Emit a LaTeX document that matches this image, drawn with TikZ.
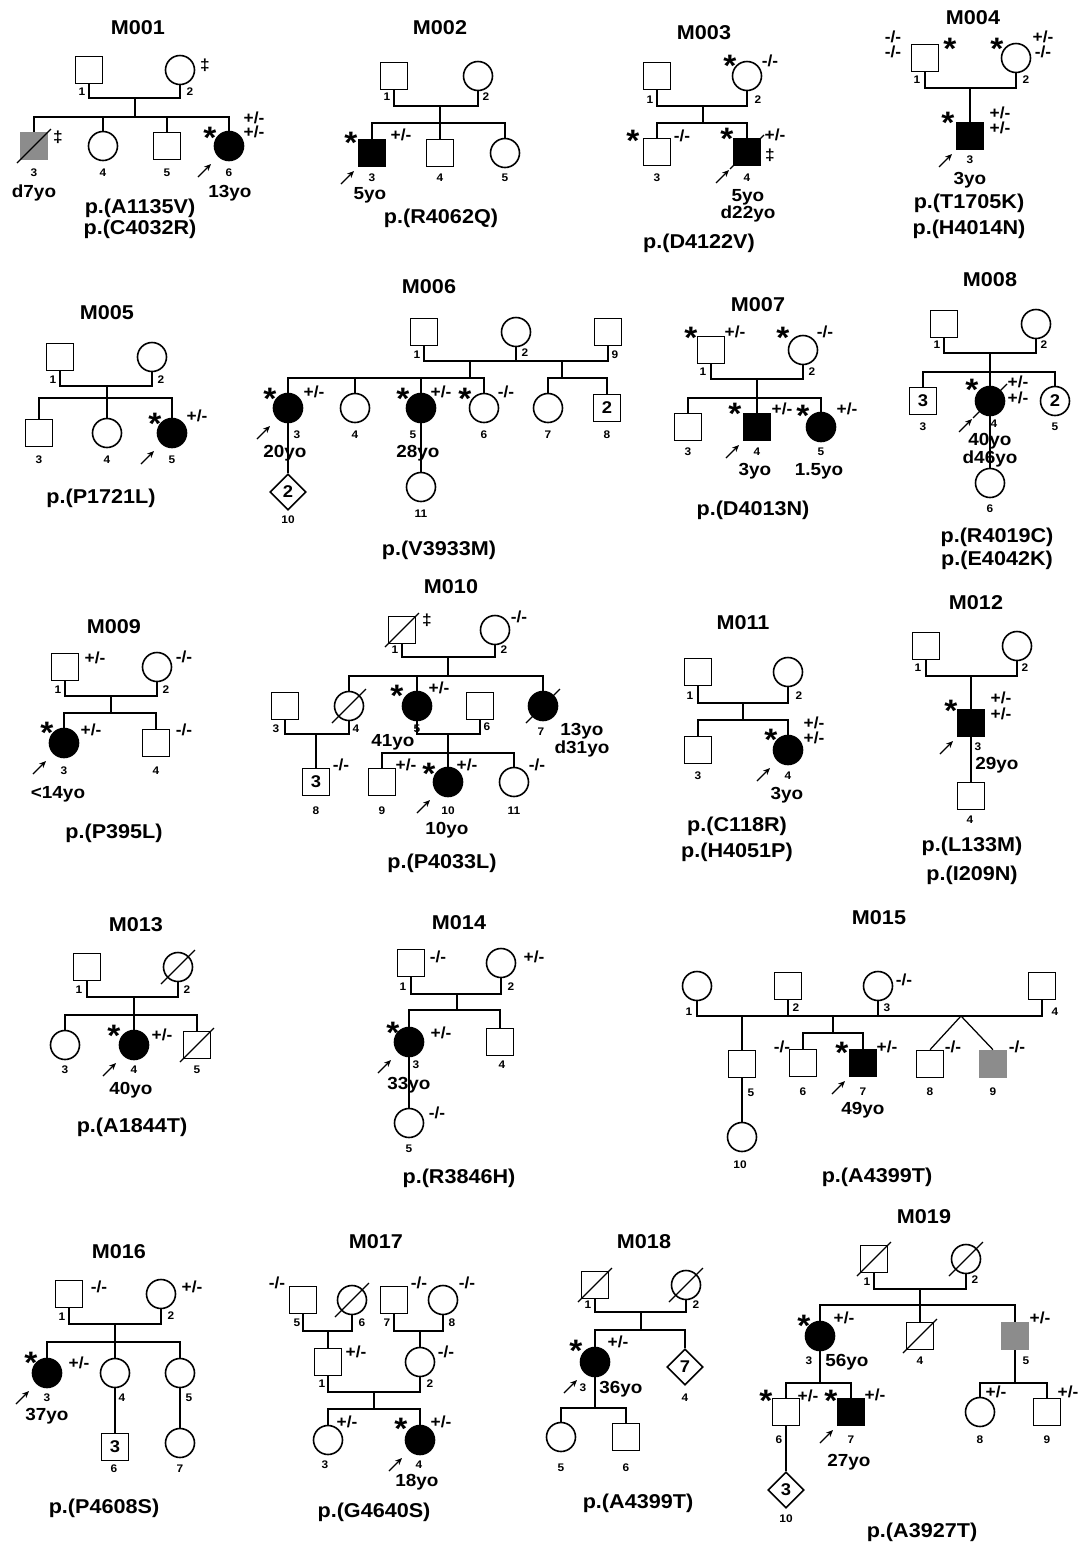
\documentclass[tikz,border=0pt]{standalone}
\usepackage{fontspec}
\setmainfont{Liberation Sans}[FakeStretch=1.08]
\usetikzlibrary{shapes.geometric,arrows.meta}
\definecolor{grayc}{RGB}{140,140,140}
\newcounter{lbc}
\newcommand\Lb[4]{\stepcounter{lbc}\node[#1] (lb\arabic{lbc}) at (#2,#3) {#4};}
\newcommand\Dd[1]{\draw[dl] ([shift={(-17,17)}]#1.center) -- ([shift={(17,-17)}]#1.center);}
\newcommand\Prb[1]{\draw[prb] ([shift={(-31,31)}]#1.center) -- ([shift={(-18,18)}]#1.center);}
\begin{document}
\begin{tikzpicture}[x=1pt,y=-1pt,
 sym/.style={draw, line width=1.6pt, inner sep=0pt},
 male/.style={sym, rectangle, minimum size=27pt},
 female/.style={sym, circle, minimum size=29pt},
 unk/.style={sym, diamond, minimum width=36pt, minimum height=36pt, font=\bfseries\fontsize{17}{17}\selectfont},
 inn/.style={font=\bfseries\fontsize{17}{17}\selectfont},
 aff/.style={fill=black},
 carr/.style={fill=grayc, draw=grayc},
 ln/.style={line width=1.25pt},
 dl/.style={line width=1.1pt},
 prb/.style={line width=1.3pt, -{Stealth[length=7pt,width=6pt]}},
 idl/.style={font=\bfseries\fontsize{11}{11}\selectfont, inner sep=0pt},
 gt/.style={font=\bfseries\fontsize{16}{16}\selectfont, inner sep=0pt},
 age/.style={font=\bfseries\fontsize{17.5}{17.5}\selectfont, inner sep=0pt},
 mut/.style={font=\bfseries\fontsize{20}{20}\selectfont, inner sep=0pt},
 ttl/.style={font=\bfseries\fontsize{20}{20}\selectfont, inner sep=0pt},
 ast/.style={font=\bfseries\fontsize{31}{31}\selectfont, inner sep=0pt, anchor=north}]
\fill[white] (0,0) rectangle (1080,1543);
\useasboundingbox (0,0) rectangle (1080,1543);

% ===== M001 =====
\Lb{ttl}{138}{28}{M001}
\node[male] (a1) at (89,70) {};
\node[female] (a2) at (180,70) {};
\Lb{gt}{205}{65}{‡}
\Lb{idl}{82}{92}{1} \Lb{idl}{190}{92}{2}
\coordinate (am) at (135,98); \coordinate (as) at (135,117);
\draw[ln] (a1.south) |- (am) -| (a2.south);
\draw[ln] (am) -- (as);
\node[male,carr] (a3) at (34,146) {};
\node[female] (a4) at (103,146) {};
\node[male] (a5) at (167,146) {};
\node[female,aff] (a6) at (229,146) {};
\foreach \c in {a3,a4,a5,a6} \draw[ln] (as) -| (\c.north);
\Dd{a3}
\Lb{gt}{58}{137}{‡}
\Lb{ast}{210}{127}{*}
\Lb{gt}{254}{118}{+/-} \Lb{gt}{254}{132}{+/-}
\Prb{a6}
\Lb{idl}{34}{173}{3} \Lb{idl}{103}{173}{4} \Lb{idl}{167}{173}{5} \Lb{idl}{229}{173}{6}
\Lb{age}{34}{193}{d7yo} \Lb{age}{230}{193}{13yo}
\Lb{mut}{140}{208}{p.(A1135V)} \Lb{mut}{140}{229}{p.(C4032R)}

% ===== M002 =====
\Lb{ttl}{440}{28}{M002}
\node[male] (b1) at (394,76) {};
\node[female] (b2) at (478,76) {};
\Lb{idl}{387}{97}{1} \Lb{idl}{486}{97}{2}
\coordinate (bm) at (440,106); \coordinate (bs) at (440,123);
\draw[ln] (b1.south) |- (bm) -| (b2.south);
\draw[ln] (bm) -- (bs);
\node[male,aff] (b3) at (372,153) {};
\node[male] (b4) at (440,153) {};
\node[female] (b5) at (505,153) {};
\foreach \c in {b3,b4,b5} \draw[ln] (bs) -| (\c.north);
\Lb{ast}{351}{132}{*} \Lb{gt}{401}{135}{+/-}
\Prb{b3}
\Lb{idl}{372}{178}{3} \Lb{idl}{440}{178}{4} \Lb{idl}{505}{178}{5}
\Lb{age}{370}{195}{5yo}
\Lb{mut}{441}{218}{p.(R4062Q)}

% ===== M003 =====
\Lb{ttl}{704}{33}{M003}
\node[male] (c1) at (657,76) {};
\node[female] (c2) at (747,76) {};
\Lb{ast}{730}{55}{*} \Lb{gt}{770}{61}{-/-}
\Lb{idl}{650}{100}{1} \Lb{idl}{758}{100}{2}
\coordinate (cm) at (703,106); \coordinate (cs) at (703,123);
\draw[ln] (c1.south) |- (cm) -| (c2.south);
\draw[ln] (cm) -- (cs);
\node[male] (c3) at (657,152) {};
\node[male,aff] (c4) at (747,152) {};
\foreach \c in {c3,c4} \draw[ln] (cs) -| (\c.north);
\Dd{c4}
\Lb{ast}{633}{130}{*} \Lb{gt}{682}{136}{-/-}
\Lb{ast}{727}{128}{*} \Lb{gt}{775}{135}{+/-} \Lb{gt}{770}{155}{‡}
\Prb{c4}
\Lb{idl}{657}{178}{3} \Lb{idl}{747}{178}{4}
\Lb{age}{748}{197}{5yo} \Lb{age}{748}{214}{d22yo}
\Lb{mut}{699}{243}{p.(D4122V)}

% ===== M004 =====
\Lb{ttl}{973}{18}{M004}
\node[male] (d1) at (925,58) {};
\node[female] (d2) at (1016,58) {};
\Lb{gt}{893}{37}{-/-} \Lb{gt}{893}{52}{-/-}
\Lb{ast}{950}{38}{*} \Lb{ast}{997}{38}{*}
\Lb{gt}{1043}{37}{+/-} \Lb{gt}{1043}{52}{-/-}
\Lb{idl}{917}{80}{1} \Lb{idl}{1026}{80}{2}
\coordinate (dm) at (970,88);
\draw[ln] (d1.south) |- (dm) -| (d2.south);
\node[male,aff] (d3) at (970,136) {};
\draw[ln] (dm) -- (d3.north);
\Lb{ast}{948}{112}{*} \Lb{gt}{1000}{113}{+/-} \Lb{gt}{1000}{128}{+/-}
\Prb{d3}
\Lb{idl}{970}{160}{3} \Lb{age}{970}{180}{3yo}
\Lb{mut}{969}{203}{p.(T1705K)} \Lb{mut}{969}{229}{p.(H4014N)}

% ===== M005 =====
\Lb{ttl}{107}{313}{M005}
\node[male] (e1) at (60,357) {};
\node[female] (e2) at (152,357) {};
\Lb{idl}{53}{380}{1} \Lb{idl}{161}{380}{2}
\coordinate (em) at (107,386); \coordinate (es) at (107,398);
\draw[ln] (e1.south) |- (em) -| (e2.south);
\draw[ln] (em) -- (es);
\node[male] (e3) at (39,433) {};
\node[female] (e4) at (107,433) {};
\node[female,aff] (e5) at (172,433) {};
\foreach \c in {e3,e4,e5} \draw[ln] (es) -| (\c.north);
\Lb{ast}{155}{413}{*} \Lb{gt}{197}{416}{+/-}
\Prb{e5}
\Lb{idl}{39}{460}{3} \Lb{idl}{107}{460}{4} \Lb{idl}{172}{460}{5}
\Lb{mut}{101}{498}{p.(P1721L)}

% ===== M006 =====
\Lb{ttl}{429}{287}{M006}
\node[male] (f1) at (424,332) {};
\node[female] (f2) at (516,332) {};
\node[male] (f9) at (608,332) {};
\Lb{idl}{417}{355}{1} \Lb{idl}{525}{353}{2} \Lb{idl}{615}{355}{9}
\coordinate (fm1) at (470,361); \coordinate (fm2) at (562,361);
\coordinate (fs1) at (470,378); \coordinate (fs2) at (562,378);
\draw[ln] (f1.south) |- (fm1) -| (f2.south);
\draw[ln] (f2.south) |- (fm2) -| (f9.south);
\draw[ln] (fm1) -- (fs1); \draw[ln] (fm2) -- (fs2);
\node[female,aff] (f3) at (288,408) {};
\node[female] (f4) at (355,408) {};
\node[female,aff] (f5) at (421,408) {};
\node[female] (f6) at (484,408) {};
\node[female] (f7) at (548,408) {};
\node[male,inn] (f8) at (607,408) {2};
\foreach \c in {f3,f4,f5,f6} \draw[ln] (fs1) -| (\c.north);
\foreach \c in {f7,f8} \draw[ln] (fs2) -| (\c.north);
\Lb{ast}{270}{388}{*} \Lb{gt}{314}{392}{+/-}
\Lb{ast}{403}{388}{*} \Lb{gt}{441}{392}{+/-}
\Lb{ast}{465}{388}{*} \Lb{gt}{506}{392}{-/-}
\Prb{f3}
\Lb{idl}{297}{435}{3} \Lb{idl}{355}{435}{4} \Lb{idl}{413}{435}{5}
\Lb{idl}{484}{435}{6} \Lb{idl}{548}{435}{7} \Lb{idl}{607}{435}{8}
\node[unk] (f10) at (288,492) {2};
\node[female] (f11) at (421,487) {};
\draw[ln] (f3.south) -- (f10.north);
\draw[ln] (f5.south) -- (f11.north);
\Lb{age}{285}{453}{20yo} \Lb{age}{418}{453}{28yo}
\Lb{idl}{288}{520}{10} \Lb{idl}{421}{514}{11}
\Lb{mut}{439}{550}{p.(V3933M)}

% ===== M007 =====
\Lb{ttl}{758}{305}{M007}
\node[male] (g1) at (711,350) {};
\node[female] (g2) at (803,350) {};
\Lb{ast}{691}{327}{*} \Lb{gt}{735}{332}{+/-}
\Lb{ast}{783}{327}{*} \Lb{gt}{825}{332}{-/-}
\Lb{idl}{703}{372}{1} \Lb{idl}{812}{372}{2}
\coordinate (gm) at (757,379); \coordinate (gs) at (757,398);
\draw[ln] (g1.south) |- (gm) -| (g2.south);
\draw[ln] (gm) -- (gs);
\node[male] (g3) at (688,427) {};
\node[male,aff] (g4) at (757,427) {};
\node[female,aff] (g5) at (821,427) {};
\foreach \c in {g3,g4,g5} \draw[ln] (gs) -| (\c.north);
\Lb{ast}{735}{403}{*} \Lb{gt}{782}{409}{+/-}
\Lb{ast}{803}{405}{*} \Lb{gt}{847}{409}{+/-}
\Prb{g4}
\Lb{idl}{688}{452}{3} \Lb{idl}{757}{452}{4} \Lb{idl}{821}{452}{5}
\Lb{age}{755}{471}{3yo} \Lb{age}{819}{471}{1.5yo}
\Lb{mut}{753}{510}{p.(D4013N)}

% ===== M008 =====
\Lb{ttl}{990}{280}{M008}
\node[male] (h1) at (944,324) {};
\node[female] (h2) at (1036,324) {};
\Lb{idl}{937}{345}{1} \Lb{idl}{1044}{345}{2}
\coordinate (hm) at (990,353); \coordinate (hs) at (990,372);
\draw[ln] (h1.south) |- (hm) -| (h2.south);
\draw[ln] (hm) -- (hs);
\node[male,inn] (h3) at (923,401) {3};
\node[female,aff] (h4) at (990,401) {};
\node[female,inn] (h5) at (1055,401) {2};
\foreach \c in {h3,h4,h5} \draw[ln] (hs) -| (\c.north);
\Dd{h4}
\Lb{ast}{972}{379}{*} \Lb{gt}{1018}{382}{+/-} \Lb{gt}{1018}{398}{+/-}
\Prb{h4}
\node[female] (h6) at (990,483) {};
\draw[ln] (h4.south) -- (h6.north);
\Lb{idl}{994}{424}{4} \Lb{idl}{923}{427}{3} \Lb{idl}{1055}{427}{5}
\Lb{age}{990}{441}{40yo} \Lb{age}{990}{459}{d46yo}
\Lb{idl}{990}{509}{6}
\Lb{mut}{997}{537}{p.(R4019C)} \Lb{mut}{997}{560}{p.(E4042K)}

% ===== M009 =====
\Lb{ttl}{114}{627}{M009}
\node[male] (i1) at (65,667) {};
\node[female] (i2) at (157,667) {};
\Lb{gt}{95}{658}{+/-} \Lb{gt}{184}{657}{-/-}
\Lb{idl}{58}{690}{1} \Lb{idl}{166}{690}{2}
\coordinate (im) at (111,696); \coordinate (is) at (111,713);
\draw[ln] (i1.south) |- (im) -| (i2.south);
\draw[ln] (im) -- (is);
\node[female,aff] (i3) at (64,743) {};
\node[male] (i4) at (156,743) {};
\foreach \c in {i3,i4} \draw[ln] (is) -| (\c.north);
\Lb{ast}{47}{722}{*} \Lb{gt}{91}{730}{+/-} \Lb{gt}{184}{730}{-/-}
\Prb{i3}
\Lb{idl}{64}{771}{3} \Lb{idl}{156}{771}{4}
\Lb{age}{58}{794}{<14yo}
\Lb{mut}{114}{833}{p.(P395L)}

% ===== M010 =====
\Lb{ttl}{451}{587}{M010}
\node[male] (j1) at (402,630) {};
\node[female] (j2) at (495,630) {};
\Dd{j1}
\Lb{gt}{427}{620}{‡} \Lb{gt}{519}{617}{-/-}
\Lb{idl}{395}{650}{1} \Lb{idl}{504}{650}{2}
\coordinate (jm) at (448,657); \coordinate (js) at (448,676);
\draw[ln] (j1.south) |- (jm) -| (j2.south);
\draw[ln] (jm) -- (js);
\node[male] (j3) at (285,706) {};
\node[female] (j4) at (349,706) {};
\node[female,aff] (j5) at (417,706) {};
\node[male] (j6) at (480,706) {};
\node[female,aff] (j7) at (543,706) {};
\foreach \c in {j4,j5,j7} \draw[ln] (js) -| (\c.north);
\Dd{j4} \Dd{j7}
\Lb{ast}{397}{685}{*} \Lb{gt}{439}{688}{+/-}
\Lb{idl}{276}{729}{3} \Lb{idl}{356}{729}{4} \Lb{idl}{417}{729}{5}
\Lb{idl}{487}{727}{6} \Lb{idl}{541}{732}{7}
\Lb{age}{393}{742}{41yo} \Lb{age}{582}{731}{13yo} \Lb{age}{582}{749}{d31yo}
\coordinate (jm34) at (316,734);
\draw[ln] (j3.south) |- (jm34) -| (j4.south);
\node[male,inn] (j8) at (316,782) {3};
\draw[ln] (jm34) -- (j8.north);
\Lb{gt}{341}{765}{-/-} \Lb{idl}{316}{811}{8}
\coordinate (jm56) at (448,734); \coordinate (js56) at (448,753);
\draw[ln] (j5.south) |- (jm56) -| (j6.south);
\draw[ln] (jm56) -- (js56);
\node[male] (j9) at (382,782) {};
\node[female,aff] (j10) at (448,782) {};
\node[female] (j11) at (514,782) {};
\foreach \c in {j9,j10,j11} \draw[ln] (js56) -| (\c.north);
\Lb{gt}{406}{765}{+/-} \Lb{ast}{429}{763}{*} \Lb{gt}{467}{765}{+/-} \Lb{gt}{537}{765}{-/-}
\Prb{j10}
\Lb{idl}{382}{811}{9} \Lb{idl}{448}{811}{10} \Lb{idl}{514}{811}{11}
\Lb{age}{447}{830}{10yo}
\Lb{mut}{442}{863}{p.(P4033L)}

% ===== M011 =====
\Lb{ttl}{743}{623}{M011}
\node[male] (k1) at (698,672) {};
\node[female] (k2) at (788,672) {};
\Lb{idl}{690}{696}{1} \Lb{idl}{799}{696}{2}
\coordinate (km) at (743,703); \coordinate (ks) at (743,720);
\draw[ln] (k1.south) |- (km) -| (k2.south);
\draw[ln] (km) -- (ks);
\node[male] (k3) at (698,750) {};
\node[female,aff] (k4) at (788,750) {};
\foreach \c in {k3,k4} \draw[ln] (ks) -| (\c.north);
\Lb{ast}{771}{729}{*} \Lb{gt}{814}{723}{+/-} \Lb{gt}{814}{738}{+/-}
\Prb{k4}
\Lb{idl}{698}{776}{3} \Lb{idl}{788}{776}{4}
\Lb{age}{787}{795}{3yo}
\Lb{mut}{737}{826}{p.(C118R)} \Lb{mut}{737}{852}{p.(H4051P)}

% ===== M012 =====
\Lb{ttl}{976}{603}{M012}
\node[male] (l1) at (926,646) {};
\node[female] (l2) at (1017,646) {};
\Lb{idl}{918}{668}{1} \Lb{idl}{1025}{668}{2}
\coordinate (lm) at (971,676);
\draw[ln] (l1.south) |- (lm) -| (l2.south);
\node[male,aff] (l3) at (971,723) {};
\draw[ln] (lm) -- (l3.north);
\Lb{ast}{951}{700}{*} \Lb{gt}{1001}{698}{+/-} \Lb{gt}{1001}{714}{+/-}
\Prb{l3}
\Lb{idl}{978}{747}{3}
\node[male] (l4) at (971,796) {};
\draw[ln] (l3.south) -- (l4.north);
\Lb{age}{997}{765}{29yo}
\Lb{idl}{970}{820}{4}
\Lb{mut}{972}{846}{p.(L133M)} \Lb{mut}{972}{875}{p.(I209N)}

% ===== M013 =====
\Lb{ttl}{136}{925}{M013}
\node[male] (n1) at (87,967) {};
\node[female] (n2) at (178,967) {};
\Dd{n2}
\Lb{idl}{79}{990}{1} \Lb{idl}{187}{990}{2}
\coordinate (nm) at (134,997); \coordinate (ns) at (134,1015);
\draw[ln] (n1.south) |- (nm) -| (n2.south);
\draw[ln] (nm) -- (ns);
\node[female] (n3) at (65,1045) {};
\node[female,aff] (n4) at (134,1045) {};
\node[male] (n5) at (197,1045) {};
\foreach \c in {n3,n4,n5} \draw[ln] (ns) -| (\c.north);
\Dd{n5}
\Lb{ast}{114}{1025}{*} \Lb{gt}{162}{1035}{+/-}
\Prb{n4}
\Lb{idl}{65}{1070}{3} \Lb{idl}{134}{1070}{4} \Lb{idl}{197}{1070}{5}
\Lb{age}{131}{1090}{40yo}
\Lb{mut}{132}{1127}{p.(A1844T)}

% ===== M014 =====
\Lb{ttl}{459}{923}{M014}
\node[male] (o1) at (411,963) {};
\node[female] (o2) at (501,963) {};
\Lb{gt}{438}{957}{-/-} \Lb{gt}{534}{957}{+/-}
\Lb{idl}{403}{987}{1} \Lb{idl}{511}{987}{2}
\coordinate (om) at (457,994); \coordinate (os) at (457,1010);
\draw[ln] (o1.south) |- (om) -| (o2.south);
\draw[ln] (om) -- (os);
\node[female,aff] (o3) at (409,1042) {};
\node[male] (o4) at (500,1042) {};
\foreach \c in {o3,o4} \draw[ln] (os) -| (\c.north);
\Lb{ast}{393}{1022}{*} \Lb{gt}{441}{1033}{+/-}
\Prb{o3}
\Lb{idl}{416}{1065}{3} \Lb{idl}{502}{1065}{4}
\Lb{age}{409}{1085}{33yo}
\node[female] (o5) at (409,1123) {};
\draw[ln] (o3.south) -- (o5.north);
\Lb{gt}{437}{1113}{-/-} \Lb{idl}{409}{1149}{5}
\Lb{mut}{459}{1178}{p.(R3846H)}

% ===== M015 =====
\Lb{ttl}{879}{918}{M015}
\node[female] (p1) at (697,986) {};
\node[male] (p2) at (788,986) {};
\node[female] (p3) at (878,986) {};
\node[male] (p4) at (1042,986) {};
\Lb{gt}{904}{980}{-/-}
\Lb{idl}{689}{1012}{1} \Lb{idl}{796}{1008}{2} \Lb{idl}{887}{1008}{3} \Lb{idl}{1055}{1012}{4}
\coordinate (pm12) at (742,1016); \coordinate (pm23) at (833,1016); \coordinate (pm34) at (961,1016);
\draw[ln] (p1.south) |- (pm12) -| (p2.south);
\draw[ln] (p2.south) |- (pm23) -| (p3.south);
\draw[ln] (p3.south) |- (pm34) -| (p4.south);
\node[male] (p5) at (742,1064) {};
\node[female] (p10) at (742,1137) {};
\draw[ln] (pm12) -- (p5.north);
\draw[ln] (p5.south) -- (p10.north);
\Lb{idl}{751}{1093}{5} \Lb{idl}{740}{1165}{10}
\coordinate (ps23) at (833,1033);
\draw[ln] (pm23) -- (ps23);
\node[male] (p6) at (803,1063) {};
\node[male,aff] (p7) at (863,1063) {};
\foreach \c in {p6,p7} \draw[ln] (ps23) -| (\c.north);
\Lb{gt}{782}{1047}{-/-} \Lb{ast}{842}{1042}{*} \Lb{gt}{887}{1047}{+/-}
\Prb{p7}
\Lb{idl}{803}{1092}{6} \Lb{idl}{863}{1092}{7}
\Lb{age}{863}{1110}{49yo}
\node[male] (p8) at (930,1064) {};
\node[male,carr] (p9) at (993,1064) {};
\draw[ln] (pm34) -- (p8.north);
\draw[ln] (pm34) -- (p9.north);
\Lb{gt}{953}{1047}{-/-} \Lb{gt}{1017}{1047}{-/-}
\Lb{idl}{930}{1092}{8} \Lb{idl}{993}{1092}{9}
\Lb{mut}{877}{1177}{p.(A4399T)}

% ===== M016 =====
\Lb{ttl}{119}{1252}{M016}
\node[male] (q1) at (69,1294) {};
\node[female] (q2) at (161,1294) {};
\Lb{gt}{99}{1287}{-/-} \Lb{gt}{192}{1287}{+/-}
\Lb{idl}{62}{1317}{1} \Lb{idl}{171}{1316}{2}
\coordinate (qm) at (115,1324); \coordinate (qs) at (115,1342);
\draw[ln] (q1.south) |- (qm) -| (q2.south);
\draw[ln] (qm) -- (qs);
\node[female,aff] (q3) at (47,1373) {};
\node[female] (q4) at (115,1373) {};
\node[female] (q5) at (180,1373) {};
\foreach \c in {q3,q4,q5} \draw[ln] (qs) -| (\c.north);
\Lb{ast}{31}{1352}{*} \Lb{gt}{79}{1363}{+/-}
\Prb{q3}
\Lb{idl}{47}{1398}{3} \Lb{idl}{122}{1398}{4} \Lb{idl}{189}{1398}{5}
\Lb{age}{47}{1416}{37yo}
\node[male,inn] (q6) at (115,1447) {3};
\node[female] (q7) at (180,1443) {};
\draw[ln] (q4.south) -- (q6.north);
\draw[ln] (q5.south) -- (q7.north);
\Lb{idl}{114}{1469}{6} \Lb{idl}{180}{1469}{7}
\Lb{mut}{104}{1508}{p.(P4608S)}

% ===== M017 =====
\Lb{ttl}{376}{1242}{M017}
\node[male] (r5) at (303,1300) {};
\node[female] (r6) at (352,1300) {};
\node[male] (r7) at (394,1300) {};
\node[female] (r8) at (443,1300) {};
\Dd{r6}
\Lb{gt}{277}{1283}{-/-} \Lb{gt}{419}{1283}{-/-} \Lb{gt}{467}{1283}{-/-}
\Lb{idl}{297}{1323}{5} \Lb{idl}{362}{1323}{6} \Lb{idl}{387}{1323}{7} \Lb{idl}{452}{1323}{8}
\coordinate (rm56) at (328,1331); \coordinate (rm78) at (420,1331);
\draw[ln] (r5.south) |- (rm56) -| (r6.south);
\draw[ln] (r7.south) |- (rm78) -| (r8.south);
\node[male] (r1) at (328,1362) {};
\node[female] (r2) at (420,1362) {};
\draw[ln] (rm56) -- (r1.north);
\draw[ln] (rm78) -- (r2.north);
\Lb{gt}{356}{1352}{+/-} \Lb{gt}{446}{1352}{-/-}
\Lb{idl}{322}{1384}{1} \Lb{idl}{430}{1384}{2}
\coordinate (rm12) at (374,1392); \coordinate (rs12) at (374,1409);
\draw[ln] (r1.south) |- (rm12) -| (r2.south);
\draw[ln] (rm12) -- (rs12);
\node[female] (r3) at (328,1440) {};
\node[female,aff] (r4) at (420,1440) {};
\foreach \c in {r3,r4} \draw[ln] (rs12) -| (\c.north);
\Lb{gt}{347}{1422}{+/-} \Lb{ast}{401}{1418}{*} \Lb{gt}{441}{1422}{+/-}
\Prb{r4}
\Lb{idl}{325}{1465}{3} \Lb{idl}{419}{1465}{4}
\Lb{age}{417}{1482}{18yo}
\Lb{mut}{374}{1512}{p.(G4640S)}

% ===== M018 =====
\Lb{ttl}{644}{1242}{M018}
\node[male] (t1) at (595,1285) {};
\node[female] (t2) at (686,1285) {};
\Dd{t1} \Dd{t2}
\Lb{idl}{588}{1305}{1} \Lb{idl}{696}{1305}{2}
\coordinate (tm) at (641,1312); \coordinate (ts) at (641,1330);
\draw[ln] (t1.south) |- (tm) -| (t2.south);
\draw[ln] (tm) -- (ts);
\node[female,aff] (t3) at (595,1362) {};
\node[unk] (t4) at (685,1367) {7};
\foreach \c in {t3,t4} \draw[ln] (ts) -| (\c.north);
\Lb{ast}{576}{1340}{*} \Lb{gt}{618}{1342}{+/-}
\Prb{t3}
\Lb{idl}{583}{1388}{3} \Lb{age}{621}{1389}{36yo} \Lb{idl}{685}{1398}{4}
\coordinate (ts3) at (595,1408);
\draw[ln] (t3.south) -- (ts3);
\node[female] (t5) at (561,1437) {};
\node[male] (t6) at (626,1437) {};
\foreach \c in {t5,t6} \draw[ln] (ts3) -| (\c.north);
\Lb{idl}{561}{1468}{5} \Lb{idl}{626}{1468}{6}
\Lb{mut}{638}{1503}{p.(A4399T)}

% ===== M019 =====
\Lb{ttl}{924}{1217}{M019}
\node[male] (u1) at (874,1259) {};
\node[female] (u2) at (966,1259) {};
\Dd{u1} \Dd{u2}
\Lb{idl}{867}{1282}{1} \Lb{idl}{975}{1280}{2}
\coordinate (um) at (920,1289); \coordinate (us) at (920,1305);
\draw[ln] (u1.south) |- (um) -| (u2.south);
\draw[ln] (um) -- (us);
\node[female,aff] (u3) at (820,1336) {};
\node[male] (u4) at (920,1336) {};
\node[male,carr] (u5) at (1015,1336) {};
\foreach \c in {u3,u4,u5} \draw[ln] (us) -| (\c.north);
\Dd{u4}
\Lb{ast}{804}{1315}{*} \Lb{gt}{844}{1318}{+/-} \Lb{gt}{1040}{1318}{+/-}
\Lb{idl}{809}{1361}{3} \Lb{age}{847}{1362}{56yo} \Lb{idl}{920}{1361}{4} \Lb{idl}{1026}{1361}{5}
\coordinate (us3) at (820,1383);
\draw[ln] (u3.south) -- (us3);
\node[male] (u6) at (786,1412) {};
\node[male,aff] (u7) at (851,1412) {};
\foreach \c in {u6,u7} \draw[ln] (us3) -| (\c.north);
\Lb{ast}{766}{1390}{*} \Lb{gt}{808}{1396}{+/-} \Lb{ast}{831}{1390}{*} \Lb{gt}{875}{1395}{+/-}
\Prb{u7}
\Lb{idl}{779}{1440}{6} \Lb{idl}{851}{1440}{7}
\Lb{age}{849}{1462}{27yo}
\node[unk] (u10) at (786,1490) {3};
\draw[ln] (u6.south) -- (u10.north);
\Lb{idl}{786}{1519}{10}
\coordinate (us5) at (1015,1383);
\draw[ln] (u5.south) -- (us5);
\node[female] (u8) at (980,1412) {};
\node[male] (u9) at (1047,1412) {};
\foreach \c in {u8,u9} \draw[ln] (us5) -| (\c.north);
\Lb{gt}{996}{1392}{+/-} \Lb{gt}{1068}{1392}{+/-}
\Lb{idl}{980}{1440}{8} \Lb{idl}{1047}{1440}{9}
\Lb{mut}{922}{1532}{p.(A3927T)}
\end{tikzpicture}
\end{document}
